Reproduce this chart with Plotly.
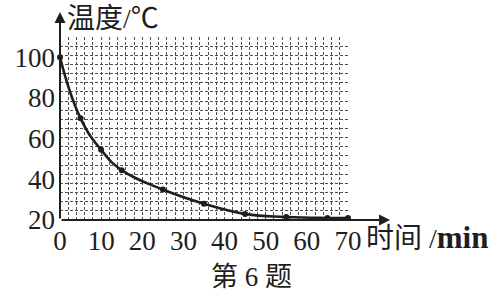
import plotly.graph_objects as go

time_min = [0, 5, 10, 15, 25, 35, 45, 55, 65, 70]
temp_c = [100, 70, 54.5, 44.5, 35, 28, 23, 21.5, 21, 21]
x_ticks = [0, 10, 20, 30, 40, 50, 60, 70]
y_ticks = [20, 40, 60, 80, 100]

ink = "#1e1e1e"
grid_col = "#505050"
serif = "Liberation Serif, Tinos, Times New Roman, serif"
cjk = "Liberation Serif, Noto Sans CJK SC"

fig = go.Figure()
fig.add_trace(go.Scatter(
    x=time_min, y=temp_c, mode="lines+markers",
    line=dict(color=ink, width=2.6, shape="spline", smoothing=1.3),
    marker=dict(color=ink, size=6),
    cliponaxis=False, showlegend=False,
))

fig.update_layout(
    width=496, height=295, autosize=False,
    margin=dict(l=60, r=148, t=37, b=75, pad=0),
    paper_bgcolor="white", plot_bgcolor="white",
    xaxis=dict(
        range=[0, 70], tickvals=x_ticks, ticktext=[str(v) for v in x_ticks],
        showgrid=True, gridcolor=grid_col, gridwidth=1, griddash="3px,2px",
        minor=dict(dtick=2, tick0=0, showgrid=True, gridcolor=grid_col,
                   gridwidth=1, griddash="3px,2px"),
        zeroline=False, showline=False, ticks="", ticklen=0,
        tickfont=dict(family=serif, size=27, color=ink),
        ticklabelstandoff=2,
    ),
    yaxis=dict(
        range=[20, 110], tickvals=y_ticks, ticktext=[str(v) for v in y_ticks],
        showgrid=False,
        minor=dict(dtick=4.5, tick0=20, showgrid=True, gridcolor=grid_col,
                   gridwidth=1, griddash="3px,2px"),
        zeroline=False, showline=False, ticks="", ticklen=0,
        tickfont=dict(family=serif, size=27, color=ink),
        ticklabelstandoff=4,
    ),
)

# axis lines with arrows
fig.add_annotation(xref="paper", yref="paper", x=1.146, y=0, ax=-330, ay=0,
                   text="", showarrow=True, arrowhead=2, arrowsize=1.1,
                   arrowwidth=2, arrowcolor=ink)
fig.add_annotation(xref="paper", yref="paper", x=0, y=1.137, ax=0, ay=208,
                   text="", showarrow=True, arrowhead=2, arrowsize=1.1,
                   arrowwidth=2, arrowcolor=ink)

# axis titles and caption
fig.add_annotation(xref="paper", yref="paper", x=5 / 288, y=(220 - 18) / 183,
                   xanchor="left", yanchor="middle", showarrow=False,
                   text="温度/℃", font=dict(family=cjk, size=28, color=ink))
fig.add_annotation(xref="paper", yref="paper", x=(364 - 60) / 288, y=(220 - 237) / 183,
                   xanchor="left", yanchor="middle", showarrow=False,
                   text="时间 /<span style='font-size:31px'><b>min</b></span>",
                   font=dict(family=cjk, size=28, color=ink))
fig.add_annotation(xref="paper", yref="paper", x=(251 - 60) / 288, y=(220 - 277) / 183,
                   xanchor="center", yanchor="middle", showarrow=False,
                   text="第 6 题", font=dict(family=cjk, size=27, color=ink))

fig.write_html("out.html")
